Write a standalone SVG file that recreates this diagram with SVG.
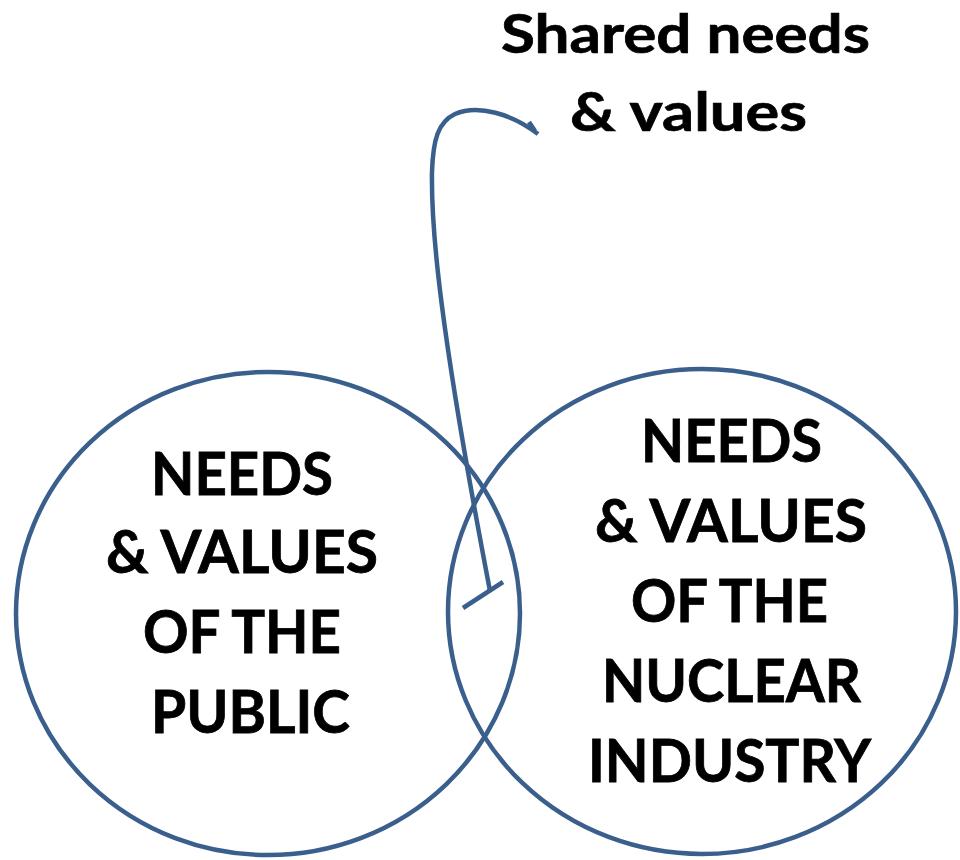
<svg xmlns="http://www.w3.org/2000/svg" width="960" height="860" viewBox="0 0 960 860">
  <style>
    .ring { fill: none; stroke: #3A5F8C; stroke-width: 4.5; }
    .lead { fill: none; stroke: #3A5F8C; stroke-width: 4.5; stroke-linecap: butt; }
    .lbl { font-family: Lato, "Liberation Sans", sans-serif; font-weight: bold; fill: #000; stroke: #000; stroke-width: 0.8; font-size: 60px; }
    .title { font-family: Lato, "Liberation Sans", sans-serif; font-weight: bold; fill: #000; stroke: #000; stroke-width: 0.7; font-size: 53px; }
  </style>
  <rect width="960" height="860" fill="#ffffff"/>

  <g id="public">
    <ellipse class="ring" cx="268" cy="613.5" rx="252" ry="241.5"/>
    <text class="lbl" x="151" y="495" textLength="182" lengthAdjust="spacingAndGlyphs">NEEDS</text>
    <text class="lbl" x="106" y="573" textLength="272" lengthAdjust="spacingAndGlyphs">&amp; VALUES</text>
    <text class="lbl" x="143" y="653" textLength="198" lengthAdjust="spacingAndGlyphs">OF THE</text>
    <text class="lbl" x="151" y="733" textLength="199" lengthAdjust="spacingAndGlyphs">PUBLIC</text>
  </g>

  <g id="industry">
    <ellipse class="ring" cx="702" cy="611.5" rx="254" ry="242.5"/>
    <text class="lbl" x="641" y="462" textLength="181" lengthAdjust="spacingAndGlyphs">NEEDS</text>
    <text class="lbl" x="595" y="542" textLength="272" lengthAdjust="spacingAndGlyphs">&amp; VALUES</text>
    <text class="lbl" x="631" y="622" textLength="197" lengthAdjust="spacingAndGlyphs">OF THE</text>
    <text class="lbl" x="602" y="702" textLength="259" lengthAdjust="spacingAndGlyphs">NUCLEAR</text>
    <text class="lbl" x="588" y="782" textLength="283" lengthAdjust="spacingAndGlyphs">INDUSTRY</text>
  </g>

  <g id="shared">
    <text class="title" x="501" y="53" textLength="369" lengthAdjust="spacingAndGlyphs">Shared needs</text>
    <text class="title" x="570" y="131" textLength="237" lengthAdjust="spacingAndGlyphs">&amp; values</text>
  </g>

  <g id="connectors">
    <!-- callout from the label down into the overlap -->
    <path class="lead" d="M538 134 C512 114 478 104 455 114 C438 122 433 140 432 172 C431 230 440 330 490 591"/>
    <path class="lead" d="M529 122 L535 131"/>
    <path class="lead" d="M463 608 L503 582"/>
  </g>
</svg>
